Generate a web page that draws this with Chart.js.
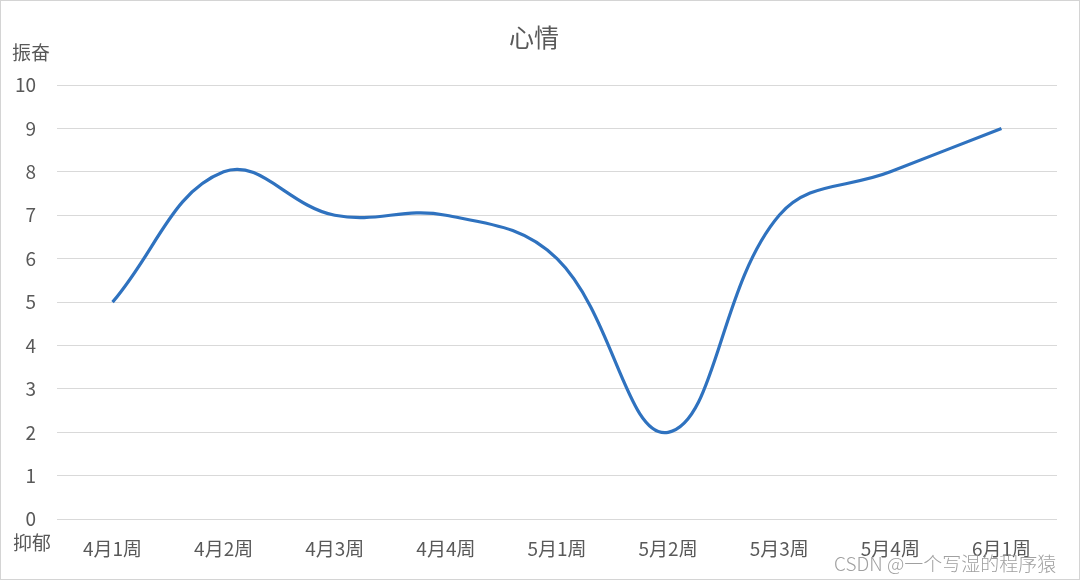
<!DOCTYPE html>
<html>
<head>
<meta charset="utf-8">
<script src="https://cdn.jsdelivr.net/npm/chart.js@4/dist/chart.umd.min.js"></script>
<style>
  html, body { margin: 0; padding: 0; background: #fff; }
  #wrap {
    position: relative; width: 1080px; height: 580px; box-sizing: border-box;
    border: 1px solid #d4d4d4; overflow: hidden;
  }
  #wrap canvas { display: block; }
  #mark {
    position: absolute; left: 833px; top: 548px; font: 19px "Noto Sans CJK SC", sans-serif;
    font-weight: 300; color: #a0a0a0; white-space: nowrap;
  }
</style>
</head>
<body>
<div id="wrap">
  <canvas id="chart" width="1078" height="578"></canvas>
  <div id="mark">CSDN @一个写湿的程序猿</div>
</div>
<script>
const weeks = ['4月1周', '4月2周', '4月3周', '4月4周', '5月1周', '5月2周', '5月3周', '5月4周', '6月1周'];
const mood = [5, 8, 7, 7, 6, 2, 7, 8, 9];
const topLabel = '振奋';
const bottomLabel = '抑郁';

const font = '"Noto Sans CJK SC", "Noto Sans", sans-serif';
const textColor = '#595959';

// 振奋 / 抑郁 next to the y axis
const endLabels = {
  id: 'endLabels',
  afterDraw(chart) {
    const y = chart.scales.y;
    const ctx = chart.ctx;
    ctx.save();
    ctx.font = '19px ' + font;
    ctx.fillStyle = textColor;
    ctx.textAlign = 'left';
    ctx.textBaseline = 'middle';
    ctx.fillText(topLabel, 11, y.top - 32);
    ctx.fillText(bottomLabel, 12, y.bottom + 24);
    ctx.restore();
  }
};

new Chart(document.getElementById('chart'), {
  type: 'line',
  data: {
    labels: weeks,
    datasets: [{
      label: '心情',
      data: mood,
      borderColor: '#2f72bf',
      borderWidth: 3.2,
      tension: 0.4,
      pointRadius: 0,
      fill: false
    }]
  },
  options: {
    responsive: false,
    animation: false,
    layout: { padding: { left: 10, right: 22, top: 0, bottom: 9 } },
    plugins: {
      legend: { display: false },
      tooltip: { enabled: false },
      title: {
        display: true,
        text: '心情',
        color: textColor,
        font: { family: font, size: 25, weight: 'normal' },
        padding: { top: 21, bottom: 33 }
      }
    },
    scales: {
      x: {
        offset: true,
        grid: { display: false },
        border: { display: false },
        ticks: { color: textColor, font: { family: font, size: 19 }, padding: 10, maxRotation: 0 }
      },
      y: {
        min: 0,
        max: 10,
        afterFit(scale) { scale.width = 46; },
        grid: { color: '#d9d9d9', drawTicks: false },
        border: { display: false },
        ticks: { stepSize: 1, color: textColor, font: { family: font, size: 19 }, padding: 21 }
      }
    }
  },
  plugins: [endLabels]
});
</script>
</body>
</html>
